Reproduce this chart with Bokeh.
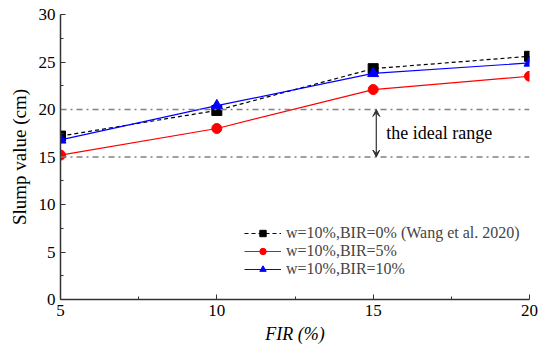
from bokeh.plotting import figure
from bokeh.models import Legend, LegendItem, Span, Arrow, VeeHead, Label, FixedTicker, Range1d
from bokeh.embed import file_html
from bokeh.resources import INLINE

fir = [5, 10, 15, 20]
bir0 = [17.2, 19.9, 24.3, 25.6]
bir5 = [15.2, 18.0, 22.1, 23.5]
bir10 = [16.8, 20.4, 23.8, 24.9]
ideal_range = [15, 20]
arrow_x = 15.1
labels = ["w=10%,BIR=0% (Wang et al. 2020)", "w=10%,BIR=5%", "w=10%,BIR=10%"]

FONT = "Liberation Serif"

p = figure(width=539, height=354, output_backend="svg", toolbar_location=None,
           x_range=Range1d(5, 20), y_range=Range1d(0, 30),
           min_border_left=60, min_border_right=10, min_border_top=14, min_border_bottom=55)
p.outline_line_color = None
p.xgrid.visible = False
p.ygrid.visible = False

for ax in (p.xaxis[0], p.yaxis[0]):
    ax.major_tick_in = 5
    ax.major_tick_out = 0
    ax.minor_tick_in = 3
    ax.minor_tick_out = 0
    ax.axis_line_color = "#333333"
    ax.axis_line_width = 1.5
    ax.major_tick_line_color = "#333333"
    ax.minor_tick_line_color = "#333333"
    ax.major_label_text_font = FONT
    ax.major_label_text_font_size = "17px"
    ax.major_label_text_color = "black"
    ax.axis_label_text_font = FONT
    ax.axis_label_text_font_size = "18px"
    ax.axis_label_text_font_style = "normal"
    ax.axis_label_text_color = "black"

p.xaxis.ticker = FixedTicker(ticks=[5, 10, 15, 20], minor_ticks=[7.5, 12.5, 17.5])
p.yaxis.ticker = FixedTicker(ticks=[0, 5, 10, 15, 20, 25, 30],
                             minor_ticks=[2.5, 7.5, 12.5, 17.5, 22.5, 27.5])
p.xaxis.axis_label = "FIR (%)"
p.xaxis.axis_label_text_font_style = "italic"
p.xaxis.axis_label_standoff = 5
p.yaxis.axis_label = "Slump value (cm)"
p.yaxis.axis_label_text_font_size = "19px"
p.yaxis.axis_label_standoff = 6

for v in ideal_range:
    p.add_layout(Span(location=v, dimension="width", line_color="#808080",
                      line_dash="dashdot", line_width=1.5))

p.add_layout(Arrow(x_start=arrow_x, y_start=ideal_range[0], x_end=arrow_x, y_end=ideal_range[1],
                   line_color="#333333", line_width=1.2,
                   start=VeeHead(size=7, line_color="#333333", fill_color="#333333"),
                   end=VeeHead(size=7, line_color="#333333", fill_color="#333333")))
p.add_layout(Label(x=arrow_x + 0.32, y=sum(ideal_range) / 2, text="the ideal range",
                   text_font=FONT, text_font_size="18px", text_baseline="middle",
                   text_color="black"))

l0 = p.line(fir, bir0, line_color="black", line_dash="4 3", line_width=1.2)
m0 = p.scatter(fir, bir0, marker="square", size=10, color="black")
l1 = p.line(fir, bir5, line_color="red", line_width=1.2)
m1 = p.scatter(fir, bir5, marker="circle", size=10, color="red")
l2 = p.line(fir, bir10, line_color="blue", line_width=1.2)
m2 = p.scatter(fir, bir10, marker="triangle", size=11, color="blue")

legend = Legend(items=[LegendItem(label=labels[0], renderers=[l0, m0]),
                       LegendItem(label=labels[1], renderers=[l1, m1]),
                       LegendItem(label=labels[2], renderers=[l2, m2])],
                location=(184, 21), border_line_color=None, background_fill_alpha=0,
                label_text_font=FONT, label_text_font_size="16px",
                glyph_width=37, glyph_height=16, label_height=16, spacing=0,
                padding=2, margin=0, label_standoff=5)
p.add_layout(legend)

open("out.html", "w").write(file_html(p, INLINE))
